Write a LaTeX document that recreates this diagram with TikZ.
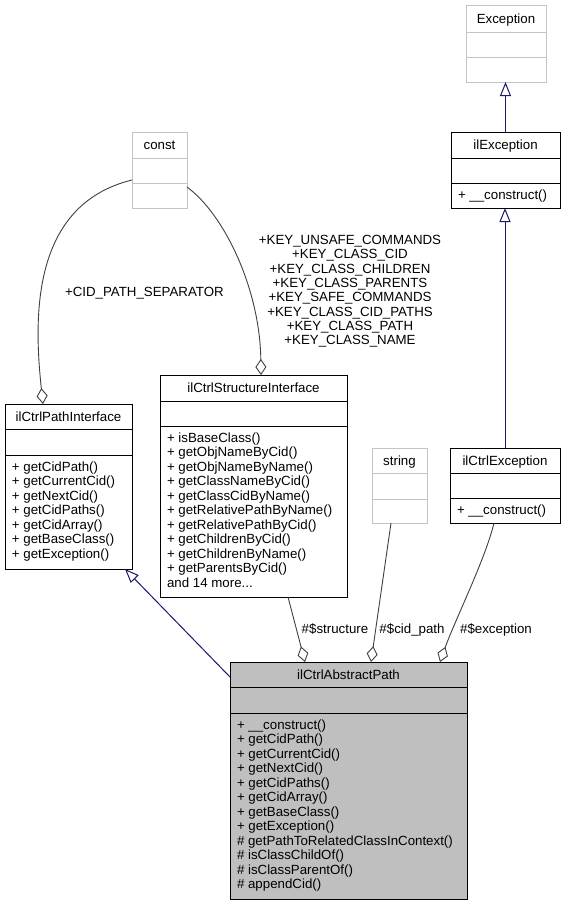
\documentclass[tikz,border=0pt]{standalone}
\usepackage{fontspec}
\setmainfont{Liberation Sans}
\usetikzlibrary{arrows.meta}
\definecolor{navy}{HTML}{191970}
\definecolor{edgegray}{HTML}{404040}
\definecolor{boxgray}{HTML}{BFBFBF}
\definecolor{ghost}{HTML}{C4C4C4}
\tikzset{
  box/.style={rectangle, line width=1pt, inner sep=0pt, outer sep=0pt},
  txt/.style={inner sep=0pt, outer sep=0pt},
  inh/.style={draw=navy, line width=1pt, -{Triangle[open, length=14pt, width=11pt]}},
  assoc/.style={draw=edgegray, line width=0.9pt, -{Diamond[open, length=16pt, width=11pt]}},
}
% #1 name, #2 colour, #3 L, #4 T, #5 R, #6 B, #7 S1, #8 S2, #9 fill
\newcommand\umlclass[9]{%
  \node[box, draw=#2, fill=#9, minimum width={#5-#3}, minimum height={#6-#4}] (#1) at ({(#3+#5)/2},{(#4+#6)/2}) {};
  \draw[line width=1pt, #2] (#3,#7) -- (#5,#7) (#3,#8) -- (#5,#8);
}
% #1 prefix, #2 x, #3 first baseline, #4 spacing, #5 anchor, #6 list
\newcommand\mlines[6]{%
  \foreach \mtext [count=\i] in {#6} {\node[txt, anchor=#5] (#1-\i) at (#2, {#3+(\i-1)*#4}) {\mtext};}
}
\begin{document}
\begin{tikzpicture}[x=1pt, y=-1pt, font=\fontsize{13.3}{14.5}\selectfont]
\fill[white] (0,0) rectangle (567,905);
\useasboundingbox (0,0) rectangle (567,905);

% classes
\umlclass{exc}{ghost}{466}{5}{546}{82}{32}{57}{white}
\node[txt, anchor=base] (exc-t) at (506,23.2) {Exception};

\umlclass{ilex}{black}{451}{132}{560}{208}{158}{183}{white}
\node[txt, anchor=base] (ilex-t) at (505.5,149.7) {ilException};
\mlines{ilex-m}{458}{199}{14.5}{base west}{+ \_\_construct()}

\umlclass{const}{ghost}{132}{132}{187}{208}{158}{183}{white}
\node[txt, anchor=base] (const-t) at (159.5,149.7) {const};

\umlclass{pi}{black}{5}{404}{132}{569}{429}{455}{white}
\node[txt, anchor=base] (pi-t) at (68.5,421.2) {ilCtrlPathInterface};
\mlines{pi-m}{12}{471}{14.5}{base west}{+ getCidPath(),+ getCurrentCid(),+ getNextCid(),+ getCidPaths(),+ getCidArray(),+ getBaseClass(),+ getException()}

\umlclass{st}{black}{160}{375}{347}{597}{401}{426}{white}
\node[txt, anchor=base] (st-t) at (253.5,392.7) {ilCtrlStructureInterface};
\mlines{st-m}{167}{442}{14.5}{base west}{+ isBaseClass(),+ getObjNameByCid(),+ getObjNameByName(),+ getClassNameByCid(),+ getClassCidByName(),+ getRelativePathByName(),+ getRelativePathByCid(),+ getChildrenByCid(),+ getChildrenByName(),+ getParentsByCid()}
\node[txt, anchor=base west] (st-more) at (167,587) {and 14 more...};

\umlclass{str}{ghost}{372}{448}{427}{523}{473}{499}{white}
\node[txt, anchor=base] (str-t) at (399.5,465.2) {string};

\umlclass{ce}{black}{450}{448}{560}{523}{473}{498}{white}
\node[txt, anchor=base] (ce-t) at (505,465.2) {ilCtrlException};
\mlines{ce-m}{457}{514}{14.5}{base west}{+ \_\_construct()}

\umlclass{abs}{black}{230}{662}{467}{899}{687}{713}{boxgray}
\node[txt, anchor=base] (abs-t) at (348.5,679.2) {ilCtrlAbstractPath};
\mlines{abs-m}{237}{729}{14.5}{base west}{+ \_\_construct(),+ getCidPath(),+ getCurrentCid(),+ getNextCid(),+ getCidPaths(),+ getCidArray(),+ getBaseClass(),+ getException(),\# getPathToRelatedClassInContext(),\# isClassChildOf(),\# isClassParentOf(),\# appendCid()}

% inheritance
\draw[inh] (ilex.north) -- (ilex.north |- exc.south);
\draw[inh] (ce.north) -- (ce.north |- ilex.south);
\draw[inh] ([yshift=-15pt]abs.north west) -- ([xshift=120pt]pi.south west);

% associations
\draw[assoc] ([yshift=-10pt]const.west) .. controls (30,205) and (34,320) .. ([xshift=38pt]pi.north west);
\draw[assoc] ([yshift=-17pt]const.east) .. controls (225,215) and (260,290) .. ([xshift=101pt]st.north west);
\draw[assoc] ([xshift=128pt]st.south west) -- ([xshift=75pt]abs.north west);
\draw[assoc] ([xshift=19pt]str.south west) -- ([xshift=141pt]abs.north west);
\draw[assoc] ([xshift=44pt]ce.south west) .. controls (485,560) and (455,620) .. ([xshift=210pt]abs.north west);

% edge labels
\node[txt, anchor=base west] (lcid) at (65,296.5) {+CID\_PATH\_SEPARATOR};
\mlines{lkey}{350}{244.5}{14.3}{base}{+KEY\_UNSAFE\_COMMANDS,+KEY\_CLASS\_CID,+KEY\_CLASS\_CHILDREN,+KEY\_CLASS\_PARENTS,+KEY\_SAFE\_COMMANDS,+KEY\_CLASS\_CID\_PATHS,+KEY\_CLASS\_PATH,+KEY\_CLASS\_NAME}
\node[txt, anchor=base] (lstruct) at (335,633) {\#\$structure};
\node[txt, anchor=base] (lcidp) at (412,633) {\#\$cid\_path};
\node[txt, anchor=base] (lexc) at (496,633) {\#\$exception};
\end{tikzpicture}
\end{document}
